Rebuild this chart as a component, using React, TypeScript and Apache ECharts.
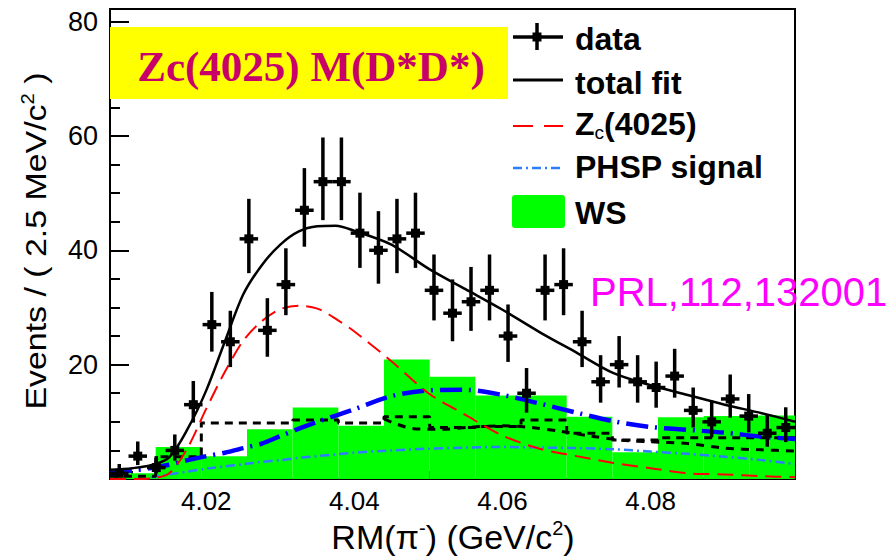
import { useEffect, useRef } from "react";
import * as echarts from "echarts";

// Axis ranges
const X_MIN = 4.007;
const X_MAX = 4.0995;
const Y_MAX = 82.2;
const BIN_WIDTH = 0.0025;

// Data histogram: bin centres (GeV/c^2) and event counts per 2.5 MeV/c^2
const binCenters = [
  4.00825, 4.01075, 4.01325, 4.01575, 4.01825, 4.02075, 4.02325, 4.02575, 4.02825, 4.03075,
  4.03325, 4.03575, 4.03825, 4.04075, 4.04325, 4.04575, 4.04825, 4.05075, 4.05325, 4.05575,
  4.05825, 4.06075, 4.06325, 4.06575, 4.06825, 4.07075, 4.07325, 4.07575, 4.07825, 4.08075,
  4.08325, 4.08575, 4.08825, 4.09075, 4.09325, 4.09575, 4.09825,
];
const dataCounts = [
  1, 4, 2, 5, 13, 27, 24, 42, 26, 34,
  47, 52, 52, 43, 40, 42, 43, 33, 29, 31,
  33, 25, 15, 33, 34, 24, 17, 20, 17, 16,
  18, 12, 10, 14, 11, 8, 9,
];

// Wrong-sign (WS) histogram and the dashed background histogram share these bin edges
const wsEdges = [
  4.007, 4.01317, 4.01933, 4.0255, 4.03167, 4.03783, 4.044, 4.05017,
  4.05633, 4.0625, 4.06867, 4.07483, 4.081, 4.08717, 4.09333, 4.0995,
];
const wsValues = [1.0, 5.6, 4.0, 8.7, 12.5, 9.3, 20.9, 17.9, 14.6, 14.6, 10.9, 4.7, 10.8, 11.0, 11.1];
const dashedHistValues = [0.5, 3.9, 9.8, 9.8, 10.3, 9.8, 10.9, 9.0, 9.2, 10.3, 8.0, 6.8, 7.2, 7.2, 7.2];

// Fit curves sampled along RM(pi-)
const curveX = [
  4.007, 4.01, 4.0125, 4.015, 4.0175, 4.02, 4.0225, 4.025, 4.0275, 4.03,
  4.0325, 4.035, 4.0375, 4.04, 4.045, 4.05, 4.055, 4.06, 4.065, 4.07,
  4.075, 4.08, 4.085, 4.09, 4.095, 4.0995,
];
const totalFit = [
  1.6, 1.9, 2.4, 3.8, 8.8, 15.5, 24.0, 32.3, 37.4, 41.0,
  43.3, 44.2, 44.3, 43.4, 41.0, 36.8, 33.2, 29.6, 25.7, 22.1,
  18.5, 16.4, 14.7, 13.0, 11.5, 10.0,
];
const zcSignal = [
  0, 0, 0.1, 1.0, 5.5, 12.3, 18.7, 24.2, 27.6, 29.7,
  30.3, 29.8, 28.0, 25.8, 20.6, 15.0, 11.2, 7.6, 5.3, 4.0,
  2.8, 1.9, 1.0, 0.8, 0.5, 0.3,
];
const totalBackground = [
  1.0, 1.5, 1.9, 2.5, 3.3, 4.0, 4.6, 5.4, 6.2, 7.5,
  8.8, 10.0, 11.1, 12.2, 14.5, 15.5, 15.6, 14.7, 13.2, 11.6,
  10.1, 9.1, 8.6, 8.1, 7.4, 7.0,
];
const phspSignal = [
  null, null, 0.3, 0.8, 1.3, 1.8, 2.2, 2.6, 3.0, 3.3,
  3.7, 4.0, 4.3, 4.6, 5.0, 5.3, 5.5, 5.6, 5.5, 5.4,
  5.2, 4.8, 4.4, 3.9, 3.3, 2.6,
];

// Secondary dashed background component
const otherBkgX = [4.044, 4.048, 4.052, 4.056, 4.06, 4.064, 4.068, 4.072, 4.076, 4.08, 4.085, 4.09, 4.095, 4.0995];
const otherBkg = [10.5, 8.8, 8.7, 9.1, 9.3, 9.0, 8.3, 7.5, 6.8, 6.5, 6.2, 5.4, 5.1, 4.9];

const SANS = '"Liberation Sans", Arial, sans-serif';
const SERIF = '"Liberation Serif", "Times New Roman", serif';

const RED = "#ff0000";
const BLUE = "#0000ff";
const LIGHT_BLUE = "#2f7dff";
const GREEN = "#00ff00";

function buildOption(): echarts.EChartsCoreOption {
  const pointRows = binCenters.map((x, i) => {
    const n = dataCounts[i];
    const r = Math.sqrt(n + 0.25);
    return [x, n, r - 0.5, r + 0.5];
  });
  const wsRows = wsValues.map((v, i) => [wsEdges[i], wsEdges[i + 1], v]);
  const dashedHist = wsEdges.map((e, i) => [e, dashedHistValues[Math.min(i, dashedHistValues.length - 1)]]);
  const pair = (xs: number[], ys: (number | null)[]) => xs.map((x, i) => [x, ys[i]]);

  const legendX = 513;
  const legendText = (y: number, text: string) => ({
    type: "text",
    x: 575,
    y,
    z: 100,
    style: {
      text,
      font: `bold 32px ${SANS}`,
      fill: "#000",
      verticalAlign: "middle",
      align: "left",
    },
  });

  return {
    animation: false,
    backgroundColor: "#fff",
    grid: {
      left: 110,
      top: 9,
      right: 96,
      bottom: 77,
      show: true,
      borderColor: "#000",
      borderWidth: 2,
      backgroundColor: "transparent",
    },
    xAxis: {
      type: "value",
      min: X_MIN,
      max: X_MAX,
      splitNumber: 5,
      minInterval: 0.02,
      maxInterval: 0.02,
      axisLine: { lineStyle: { color: "#000", width: 2 } },
      axisTick: { inside: true, length: 15, lineStyle: { color: "#000", width: 2 } },
      minorTick: { show: true, splitNumber: 4, length: 8, lineStyle: { color: "#000", width: 2 } },
      splitLine: { show: false },
      axisLabel: {
        showMinLabel: false,
        showMaxLabel: false,
        color: "#000",
        fontSize: 26,
        fontFamily: SANS,
        margin: 9,
        formatter: (v: number) => {
          const k = Math.round(v / 0.02);
          return Math.abs(v - k * 0.02) < 1e-6 ? v.toFixed(2) : "";
        },
      },
    },
    yAxis: {
      type: "value",
      min: 0,
      max: Y_MAX,
      interval: 20,
      axisLine: { show: true, lineStyle: { color: "#000", width: 2 } },
      axisTick: { inside: true, length: 19, lineStyle: { color: "#000", width: 2 } },
      minorTick: { show: true, splitNumber: 4, length: 10, lineStyle: { color: "#000", width: 2 } },
      splitLine: { show: false },
      axisLabel: {
        showMaxLabel: false,
        color: "#000",
        fontSize: 27,
        fontFamily: SANS,
        margin: 12,
        formatter: (v: number) => (v > 0 && Math.abs(v % 20) < 1e-6 ? String(v) : ""),
      },
    },
    series: [
      {
        name: "WS",
        type: "custom",
        clip: true,
        z: 1,
        encode: { x: [0, 1], y: 2 },
        data: wsRows,
        renderItem: (_p: any, api: any) => {
          const a = api.coord([api.value(0), api.value(2)]);
          const b = api.coord([api.value(1), 0]);
          return {
            type: "rect",
            shape: { x: a[0], y: a[1], width: b[0] - a[0], height: b[1] - a[1] },
            style: { fill: GREEN },
          };
        },
      },
      {
        name: "PHSP signal",
        type: "line",
        z: 3,
        smooth: 0.3,
        showSymbol: false,
        data: pair(curveX, phspSignal),
        lineStyle: { color: LIGHT_BLUE, width: 2.5, type: [9, 4, 2, 4] },
      },
      {
        name: "background",
        type: "line",
        z: 3,
        step: "end",
        showSymbol: false,
        data: dashedHist,
        lineStyle: { color: "#000", width: 3, type: [8, 6] },
      },
      {
        name: "other background",
        type: "line",
        z: 3,
        smooth: 0.3,
        showSymbol: false,
        data: pair(otherBkgX, otherBkg),
        lineStyle: { color: "#000", width: 3, type: [8, 7] },
      },
      {
        name: "total background",
        type: "line",
        z: 4,
        smooth: 0.3,
        showSymbol: false,
        data: pair(curveX, totalBackground),
        lineStyle: { color: BLUE, width: 4.5, type: [22, 7, 2, 7] },
      },
      {
        name: "Zc(4025)",
        type: "line",
        z: 5,
        smooth: 0.3,
        showSymbol: false,
        data: pair(curveX, zcSignal),
        lineStyle: { color: RED, width: 2, type: [16, 8] },
      },
      {
        name: "total fit",
        type: "line",
        z: 6,
        smooth: 0.3,
        showSymbol: false,
        data: pair(curveX, totalFit),
        lineStyle: { color: "#000", width: 2.5 },
      },
      {
        name: "data",
        type: "custom",
        clip: true,
        z: 7,
        encode: { x: 0, y: 1 },
        data: pointRows,
        renderItem: (_p: any, api: any) => {
          const x = api.value(0);
          const y = api.value(1);
          const lo = api.value(2);
          const hi = api.value(3);
          const c = api.coord([x, y]);
          const top = api.coord([x, y + hi]);
          const bot = api.coord([x, Math.max(0, y - lo)]);
          const half = api.size([BIN_WIDTH, 0])[0] / 2;
          return {
            type: "group",
            children: [
              {
                type: "line",
                shape: { x1: c[0], y1: top[1], x2: c[0], y2: bot[1] },
                style: { stroke: "#000", lineWidth: 3.5 },
              },
              {
                type: "line",
                shape: { x1: c[0] - half, y1: c[1], x2: c[0] + half, y2: c[1] },
                style: { stroke: "#000", lineWidth: 3.5 },
              },
              {
                type: "rect",
                shape: { x: c[0] - 4.5, y: c[1] - 4.5, width: 9, height: 9 },
                style: { fill: "#000" },
              },
            ],
          };
        },
      },
    ],
    graphic: [
      // title banner
      {
        type: "rect",
        z: 100,
        shape: { x: 110, y: 27, width: 398, height: 72 },
        style: { fill: "#ffff00" },
      },
      {
        type: "text",
        z: 101,
        x: 311,
        y: 66,
        style: {
          text: "Zc(4025) M(D*D*)",
          font: `bold 43px ${SERIF}`,
          fill: "#c8006a",
          align: "center",
          verticalAlign: "middle",
        },
      },
      // legend
      {
        type: "line",
        z: 100,
        shape: { x1: legendX, y1: 37, x2: legendX + 50, y2: 37 },
        style: { stroke: "#000", lineWidth: 3.5 },
      },
      {
        type: "line",
        z: 100,
        shape: { x1: legendX + 24, y1: 23, x2: legendX + 24, y2: 50 },
        style: { stroke: "#000", lineWidth: 3.5 },
      },
      {
        type: "rect",
        z: 100,
        shape: { x: legendX + 19.5, y: 32.5, width: 9, height: 9 },
        style: { fill: "#000" },
      },
      {
        type: "line",
        z: 100,
        shape: { x1: legendX, y1: 80, x2: legendX + 50, y2: 80 },
        style: { stroke: "#000", lineWidth: 3 },
      },
      {
        type: "line",
        z: 100,
        shape: { x1: legendX, y1: 126, x2: legendX + 50, y2: 126 },
        style: { stroke: RED, lineWidth: 2, lineDash: [20, 11] },
      },
      {
        type: "line",
        z: 100,
        shape: { x1: legendX, y1: 168, x2: legendX + 50, y2: 168 },
        style: { stroke: LIGHT_BLUE, lineWidth: 2.5, lineDash: [9, 4, 2, 4] },
      },
      {
        type: "rect",
        z: 100,
        shape: { x: 512, y: 195, width: 53, height: 33, r: 3 },
        style: { fill: GREEN },
      },
      legendText(39, "data"),
      legendText(83, "total fit"),
      {
        type: "text",
        x: 575,
        y: 124,
        z: 100,
        style: {
          text: "{z|Z}{c|c}{z|(4025)}",
          align: "left",
          verticalAlign: "middle",
          rich: {
            z: { font: `bold 32px ${SANS}`, fill: "#000", lineHeight: 36 },
            c: { font: `19px ${SANS}`, fill: "#000", verticalAlign: "bottom", lineHeight: 36 },
          },
        },
      },
      legendText(167, "PHSP signal"),
      legendText(213, "WS"),
      // reference
      {
        type: "text",
        z: 100,
        x: 590,
        y: 292,
        style: {
          text: "PRL,112,132001",
          font: `40px ${SANS}`,
          fill: "#ff00ff",
          align: "left",
          verticalAlign: "middle",
        },
      },
      // axis titles
      {
        type: "text",
        z: 100,
        x: 36,
        y: 241,
        rotation: Math.PI / 2,
        scaleX: 1.13,
        style: {
          text: "{a|Events / ( 2.5 MeV/c}{s|2}{a| )}",
          align: "center",
          verticalAlign: "middle",
          rich: {
            a: { font: `30px ${SANS}`, fill: "#000", lineHeight: 34 },
            s: { font: `18px ${SANS}`, fill: "#000", verticalAlign: "top", lineHeight: 34 },
          },
        },
      },
      {
        type: "text",
        z: 100,
        x: 453,
        y: 537,
        style: {
          text: "{a|RM(π}{s|-}{a|) (GeV/c}{s|2}{a|)}",
          align: "center",
          verticalAlign: "middle",
          rich: {
            a: { font: `34px ${SANS}`, fill: "#000", lineHeight: 38 },
            s: { font: `20px ${SANS}`, fill: "#000", verticalAlign: "top", lineHeight: 38 },
          },
        },
      },
    ],
  };
}

export default function App() {
  const ref = useRef<HTMLDivElement>(null);
  useEffect(() => {
    if (!ref.current) return;
    const chart = echarts.init(ref.current, null, { renderer: "svg" });
    chart.setOption(buildOption());
    return () => chart.dispose();
  }, []);
  return (
    <div
      ref={ref}
      style={{ position: "fixed", left: 0, top: 0, width: 891, height: 556, overflow: "hidden" }}
    />
  );
}
